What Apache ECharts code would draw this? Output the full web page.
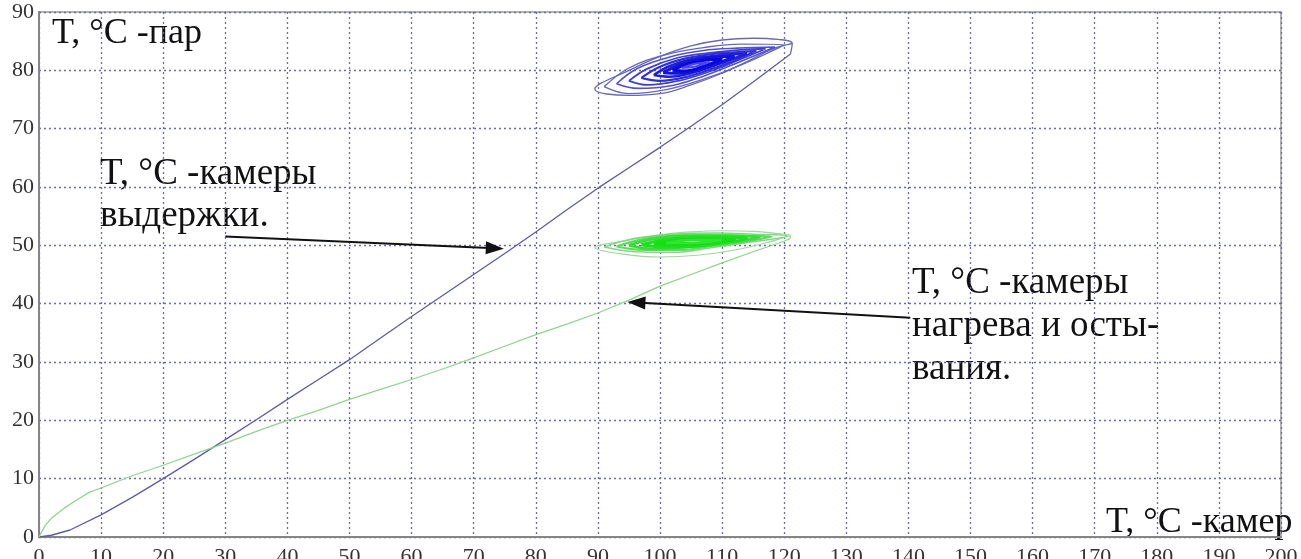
<!DOCTYPE html>
<html>
<head>
<meta charset="utf-8">
<script src="https://cdn.jsdelivr.net/npm/echarts@6/dist/echarts.min.js"></script>
<style>
  html, body { margin: 0; padding: 0; background: #fff; }
  #chart { width: 1301px; height: 559px; }
</style>
</head>
<body>
<div id="chart"></div>
<script>
// T камеры (x) vs T пар (y)
const xTicks = [0, 10, 20, 30, 40, 50, 60, 70, 80, 90, 100, 110, 120, 130, 140, 150, 160, 170, 180, 190, 200]
const yTicks = [0, 10, 20, 30, 40, 50, 60, 70, 80, 90]

// камеры выдержки
const holdLine = [[0, 0], [2, 0.3], [5, 1.2], [10, 3.8], [15, 6.8], [20, 10], [25, 13.3], [30, 16.7], [35, 20.1],
  [40, 23.6], [45, 27], [50, 30.4], [55, 34.1], [60, 37.8], [65, 41.4], [70, 45], [75, 48.6], [80, 52.3],
  [85, 56.1], [90, 59.8], [95, 63.3], [100, 66.8], [105, 70.4], [110, 74.1], [115, 78], [120, 82], [121, 82.8]]

// камеры нагрева и остывания
const heatLine = [[0, 0], [1, 2], [2, 3.2], [4, 4.9], [6, 6.3], [8, 7.6], [10, 8.4], [15, 10.5], [20, 12.3],
  [25, 14.2], [30, 16.1], [35, 18.1], [40, 20], [45, 21.7], [50, 23.6], [55, 25.3], [60, 27], [65, 28.8],
  [70, 30.7], [75, 32.7], [80, 34.7], [85, 36.5], [90, 38.4], [95, 40.6], [100, 43], [105, 45], [110, 47],
  [115, 48.9], [120, 50.7], [121, 51.2]]

// closed loops round the settled point, outer to inner
const holdLoops = [
  [[121, 82.8], [121.3, 84.6], [119, 85.3], [115, 85.5], [110, 85.2], [105, 84.2], [100, 82.4], [95, 80], [89.5, 76.8],
    [95, 75.7], [100, 76], [105, 77.5], [110, 79.5], [114, 81.5], [118, 83.6], [121.3, 84.6]],
  [[91, 77.2], [95, 80.4], [101, 82.7], [107, 83.9], [113, 84.5], [120, 84.4],
    [113, 80.9], [107, 78.5], [101, 76.7], [95, 76], [91, 77.2]],
  [[93, 77.7], [96.5, 80.4], [102, 82.4], [107, 83.4], [112.5, 83.8], [118.5, 84],
    [112.5, 81.3], [107, 79], [102, 77.4], [96.5, 76.9], [93, 77.7]],
  [[95, 78.2], [98, 80.3], [103, 82.2], [108, 83], [113, 83.5], [117, 83.7],
    [113, 81.9], [108, 79.8], [103, 78.2], [98, 77.5], [95, 78.2]],
  [[97, 78.7], [100, 80.6], [104, 82], [108.5, 82.8], [112, 83.1], [115.5, 83.3],
    [112, 81.7], [108.5, 80.3], [104, 78.8], [100, 78.2], [97, 78.7]],
  [[99, 79.2], [101.5, 80.7], [105, 81.9], [109, 82.5], [114, 82.9],
    [109, 80.9], [105, 79.5], [101.5, 78.9], [99, 79.2]],
  [[100.5, 79.6], [103, 80.9], [106, 81.8], [109, 82.3], [112, 82.4],
    [109, 81.1], [106, 80], [103, 79.5], [100.5, 79.6]],
  [[102, 80], [104, 80.9], [107, 81.7], [110, 81.9], [107, 80.7], [104, 79.9], [102, 80]],
  [[103.5, 80.4], [105.5, 81.1], [108, 81.4], [105.5, 80.6], [103.5, 80.4]]
]
const heatLoops = [
  [[121, 51.2], [121, 51.7], [119, 52], [115, 52.4], [110, 52.5], [105, 52.3], [100, 51.8], [95, 50.9], [89.5, 49.6],
    [94, 48.5], [100, 48], [106, 48.3], [112, 49.2], [117, 50.4], [121, 51.7]],
  [[91, 49.7], [96, 51.2], [102, 51.9], [109, 52.1], [115, 51.9], [120.5, 51.6],
    [115, 50.6], [109, 49.7], [102, 48.8], [96, 48.9], [91, 49.7]],
  [[93, 49.8], [97.5, 51.1], [103, 51.7], [109, 51.8], [114, 51.6], [118, 51.5],
    [114, 50.7], [109, 50], [103, 49.2], [97.5, 49.2], [93, 49.8]],
  [[95, 50], [99, 51.1], [104, 51.6], [110, 51.6], [116, 51.4], [110, 50.3], [104, 49.7], [99, 49.4], [95, 50]],
  [[97, 50.1], [101, 51], [106, 51.4], [114, 51.2], [106, 49.9], [101, 49.7], [97, 50.1]],
  [[99, 50.2], [103, 50.9], [107, 51.1], [112, 51], [107, 50.3], [103, 50.1], [99, 50.2]],
  [[101, 50.4], [105, 50.9], [110, 50.9], [105, 50.4], [101, 50.4]]
]

// arrows: [from, to]
const arrows = [
  [[30, 51.5], [73.4, 49.5]],
  [[140.3, 37.6], [96.2, 40.2]]
]

const holdLoopColors = ['#6a6aa8', '#6666c4', '#5252cc', '#4040d0', '#3030d4', '#2020d8', '#1414dc', '#0808de', '#4848e8']
const heatLoopColors = ['#a0d8a0', '#80d880', '#5cdc5c', '#3cdc3c', '#22de22', '#12e012', '#30e430']

const serif = '"Liberation Serif", "DejaVu Serif", serif'

const chart = echarts.init(document.getElementById('chart'))

const loopSeries = (loops, colors, widths) => loops.map((pts, i) => ({
  type: 'line',
  data: pts,
  showSymbol: false,
  smooth: 0.4,
  lineStyle: { color: colors[i], width: widths[i] },
  silent: true,
  z: 3 + i
}))

const gridLine = { lineStyle: { color: '#6c6ca0', width: 1.3, type: [2, 3] } }

chart.setOption({
  animation: false,
  grid: {
    left: 39, right: 20, top: 12, bottom: 22,
    outerBoundsMode: 'none',
    show: true, borderColor: '#9a9a9a', borderWidth: 1.5
  },
  xAxis: {
    type: 'value', min: 0, max: 200, interval: 10,
    axisLine: { show: true, onZero: false, lineStyle: { color: '#858585', width: 2 } },
    axisTick: { show: false },
    axisLabel: { color: '#333', fontFamily: serif, fontSize: 22, margin: 9 },
    splitLine: gridLine
  },
  yAxis: {
    type: 'value', min: 0, max: 90, interval: 10,
    axisLine: { show: true, onZero: false, lineStyle: { color: '#858585', width: 2 } },
    axisTick: { show: false },
    axisLabel: { color: '#333', fontFamily: serif, fontSize: 22, margin: 5 },
    splitLine: gridLine
  },
  series: [
    {
      type: 'line', data: holdLine, showSymbol: false, silent: true,
      lineStyle: { color: '#5c5ca4', width: 1.3 }, z: 2
    },
    {
      type: 'line', data: heatLine, showSymbol: false, silent: true,
      lineStyle: { color: '#8fd48f', width: 1.3 }, z: 2,
      markLine: {
        silent: true,
        symbol: ['none', 'triangle'],
        symbolSize: [13, 18],
        label: { show: false },
        lineStyle: { color: '#111', width: 2, type: 'solid' },
        data: arrows.map(a => [{ coord: a[0] }, { coord: a[1] }])
      }
    },
    ...loopSeries(holdLoops, holdLoopColors, [1.3, 1.4, 1.6, 1.8, 2.2, 2.6, 3, 3, 2]),
    ...loopSeries(heatLoops, heatLoopColors, [1.2, 1.5, 2.2, 2.8, 3, 3, 2.5])
  ],
  graphic: [
    { type: 'text', left: 52, top: 16, style: { text: 'T, °C -пар', font: '36px ' + serif, fill: '#111' } },
    { type: 'text', left: 100, top: 153, style: { text: 'T, °C -камеры\nвыдержки.', font: '37px ' + serif, lineHeight: 42, fill: '#111' } },
    { type: 'text', left: 912, top: 262, style: { text: 'T, °C -камеры\nнагрева и осты-\nвания.', font: '37px ' + serif, lineHeight: 43, fill: '#111' } },
    { type: 'text', left: 1106, top: 505, style: { text: 'T, °C -камер', font: '36px ' + serif, fill: '#111' } }
  ]
})
</script>
</body>
</html>
